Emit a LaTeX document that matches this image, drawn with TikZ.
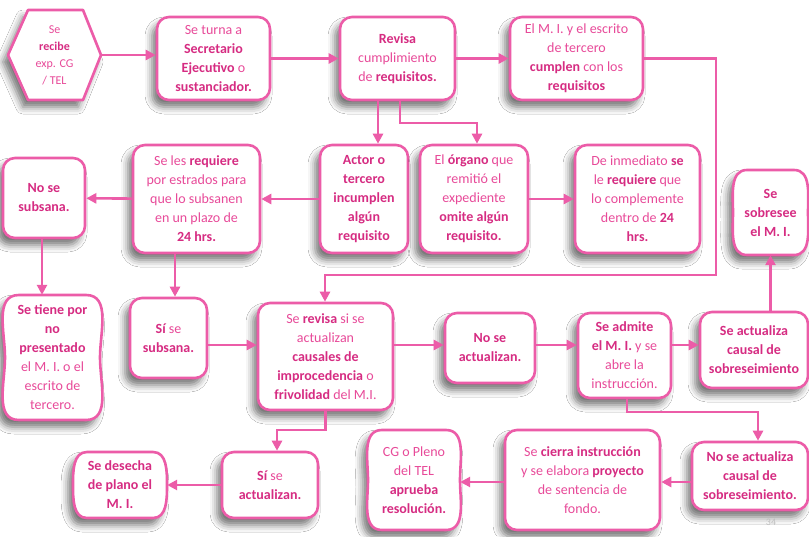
\documentclass[tikz,border=0pt]{standalone}
\usepackage{fontspec}
\setmainfont{Carlito}
\usetikzlibrary{arrows.meta,shadows.blur,calc}
\definecolor{pinkB}{RGB}{236,92,168}
\definecolor{pinkT}{RGB}{232,74,153}
\definecolor{pinkD}{RGB}{214,44,130}
\newcommand{\bd}[1]{{\bfseries\color{pinkD}#1}}
\tikzset{
  shd/.style={blur shadow={shadow xshift=-5pt,shadow yshift=-7pt,shadow blur radius=7pt,shadow opacity=55}},
  bx/.style={draw=pinkB,line width=2.6pt,rounded corners=12pt,fill=white,shd,align=center,
    text=pinkT,inner sep=2pt,font=\fontsize{14}{19}\selectfont},
  txt/.style={align=center,text=pinkT,inner sep=2pt,font=\fontsize{14}{19}\selectfont},
  bdr/.style={draw=pinkB,line width=2.6pt,fill=white,shd,line join=round},
  arr/.style={draw=pinkB,line width=2.6pt,-{Triangle[length=10pt,width=10pt]}},
}
\begin{document}
\begin{tikzpicture}[x=1pt,y=-1pt]
\useasboundingbox[fill=white] (0,0) rectangle (809,536);
% ---------- hexagon
\draw[bdr] (8,55) -- (28,10) -- (83,10) -- (101,55) -- (83,100) -- (28,100) -- cycle;
\node[txt,font=\fontsize{12}{17}\selectfont,minimum width=60pt,minimum height=86pt] (hex) at (54.5,55) {Se\\ \bd{recibe}\\ exp. CG\\ / TEL};
\coordinate (hexR) at (101,55);
% ---------- row 1
\node[bx,minimum width=113pt,minimum height=83pt] (turna) at (213.5,58.5) {Se turna a\\ \bd{Secretario}\\ \bd{Ejecutivo} o\\ \bd{sustanciador.}};
\node[bx,minimum width=115pt,minimum height=83pt] (revisa) at (397.5,58.5) {\bd{Revisa}\\ cumplimiento\\ de \bd{requisitos.}};
\node[bx,minimum width=133pt,minimum height=83pt] (cumplen) at (576.5,58.5) {El M. I. y el escrito\\ de tercero\\ \bd{cumplen} con los\\ \bd{requisitos}};
% ---------- row 2
\node[bx,minimum width=82pt,minimum height=80pt] (nosub) at (44,198) {\bd{No se}\\ \bd{subsana.}};
\node[bx,minimum width=127pt,minimum height=108pt] (requiere) at (196.5,199) {Se les \bd{requiere}\\ por estrados para\\ que lo subsanen\\ en un plazo de\\ \bd{24 hrs.}};
\node[bx,minimum width=88pt,minimum height=108pt] (actor) at (364,199) {\bd{Actor o}\\ \bd{tercero}\\ \bd{incumplen}\\ \bd{algún}\\ \bd{requisito}};
\node[bx,minimum width=108pt,minimum height=108pt] (organo) at (474,199) {El \bd{órgano} que\\ remitió el\\ expediente\\ \bd{omite algún}\\ \bd{requisito.}};
\node[bx,minimum width=125pt,minimum height=108pt] (inmed) at (637.5,199) {De inmediato \bd{se}\\ le \bd{requiere} que\\ lo complemente\\ dentro de \bd{24}\\ \bd{hrs.}};
% sobresee (bulged)
\draw[bdr] (747,170) -- (794,170) to[out=0,in=90] (808,212.5) to[out=-90,in=0] (794,255) -- (747,255) to[out=180,in=-90] (733,212.5) to[out=90,in=180] cycle;
\node[txt,minimum width=75pt,minimum height=85pt] (sobre) at (770.5,212.5) {\bd{Se}\\ \bd{sobresee}\\ \bd{el M. I.}};
% ---------- row 3
\draw[bdr] (19,295) -- (86,295) to[out=0,in=90] (100,357.5) to[out=-90,in=0] (86,420) -- (19,420) to[out=180,in=-90] (5,357.5) to[out=90,in=180] cycle;
\node[txt,minimum width=95pt,minimum height=125pt] (tiene) at (52.5,357.5) {\bd{Se tiene por}\\ \bd{no}\\ \bd{presentado}\\ el M. I. o el\\ escrito de\\ tercero.};
\node[bx,minimum width=77pt,minimum height=80pt] (sisub) at (168.5,338) {\bd{Sí} se\\ \bd{subsana.}};
\node[bx,minimum width=135pt,minimum height=107pt] (srev) at (325.5,356.5) {Se \bd{revisa} si se\\ actualizan\\ \bd{causales de}\\ \bd{improcedencia} o\\ \bd{frivolidad} del M.I.};
\node[bx,minimum width=90pt,minimum height=70pt] (noact) at (490,348) {\bd{No se}\\ \bd{actualizan.}};
\node[bx,minimum width=93pt,minimum height=85pt] (admite) at (624.5,355.5) {\bd{Se admite}\\ \bd{el M. I.} y se\\ abre la\\ instrucción.};
\node[bx,minimum width=108pt,minimum height=76pt] (actc) at (754,350) {\bd{Se actualiza}\\ \bd{causal de}\\ \bd{sobreseimiento}};
% ---------- row 4
\draw[bdr] (87,452) -- (153,452) to[out=0,in=90] (167,485) to[out=-90,in=0] (153,518) -- (87,518) to[out=180,in=-90] (73,485) to[out=90,in=180] cycle;
\node[txt,minimum width=94pt,minimum height=66pt] (desecha) at (120,485) {\bd{Se desecha}\\ \bd{de plano el}\\ \bd{M. I.}};
\node[bx,minimum width=96pt,minimum height=66pt] (siact) at (270,485) {\bd{Sí} se\\ \bd{actualizan.}};
\draw[bdr] (382,430) -- (446,430) to[out=0,in=90] (460,480) to[out=-90,in=0] (446,530) -- (382,530) to[out=180,in=-90] (368,480) to[out=90,in=180] cycle;
\node[txt,minimum width=92pt,minimum height=100pt] (cg) at (414,480) {CG o Pleno\\ del TEL\\ \bd{aprueba}\\ \bd{resolución.}};
\node[bx,minimum width=155pt,minimum height=100pt] (cierra) at (582.5,480) {Se \bd{cierra instrucción}\\ y se elabora \bd{proyecto}\\ de sentencia de\\ fondo.};
\node[bx,minimum width=116pt,minimum height=68pt] (noactc) at (750,476) {\bd{No se actualiza}\\ \bd{causal de}\\ \bd{sobreseimiento.}};
\node[text=black!25,font=\fontsize{10}{12}\selectfont] (pg) at (771,522) {34};
% ---------- coordinates for bends
\coordinate (x378) at (378,0);
\coordinate (x400) at (400,0);
\coordinate (k3) at (477,123);
\coordinate (k1) at (716,275);
\coordinate (k2) at (325,275);
\coordinate (x175) at (175,0);
\coordinate (y345) at (0,345);
\coordinate (k4) at (758,412);
\coordinate (x627) at (627,0);
\coordinate (k5) at (277,430);
\coordinate (y482) at (0,482);
\coordinate (x42) at (42,0);
% ---------- connectors
\draw[arr] (hexR) -- (hexR -| turna.west);
\draw[arr] (turna) -- (revisa);
\draw[arr] (revisa) -- (cumplen);
\draw[arr] (cumplen.east) -| (k1) -- (k2) -- (k2 |- srev.north);
\draw[arr] (revisa.south -| x378) -- (actor.north -| x378);
\draw[arr] (revisa.south -| x400) |- (k3) -- (k3 |- organo.north);
\draw[arr] (actor) -- (requiere);
\draw[arr] (requiere) -- (nosub);
\draw[arr] (organo) -- (inmed);
\draw[arr] (nosub.south -| x42) -- (tiene.north -| x42);
\draw[arr] (requiere.south -| x175) -- (sisub.north -| x175);
\draw[arr] (sisub.east |- y345) -- (srev.west |- y345);
\draw[arr] (srev.east |- y345) -- (noact.west |- y345);
\draw[arr] (noact.east |- y345) -- (admite.west |- y345);
\draw[arr] (admite.east |- y345) -- (actc.west |- y345);
\draw[arr] (actc.north -| sobre.south) -- (sobre.south);
\draw[arr] (admite.south -| x627) |- (k4) -- (k4 |- noactc.north);
\draw[arr] (srev.south) |- (k5) -- (k5 |- siact.north);
\draw[arr] (siact) -- (desecha);
\draw[arr] (noactc.west |- y482) -- (cierra.east |- y482);
\draw[arr] (cierra.west |- y482) -- (cg.east |- y482);
\end{tikzpicture}
\end{document}
